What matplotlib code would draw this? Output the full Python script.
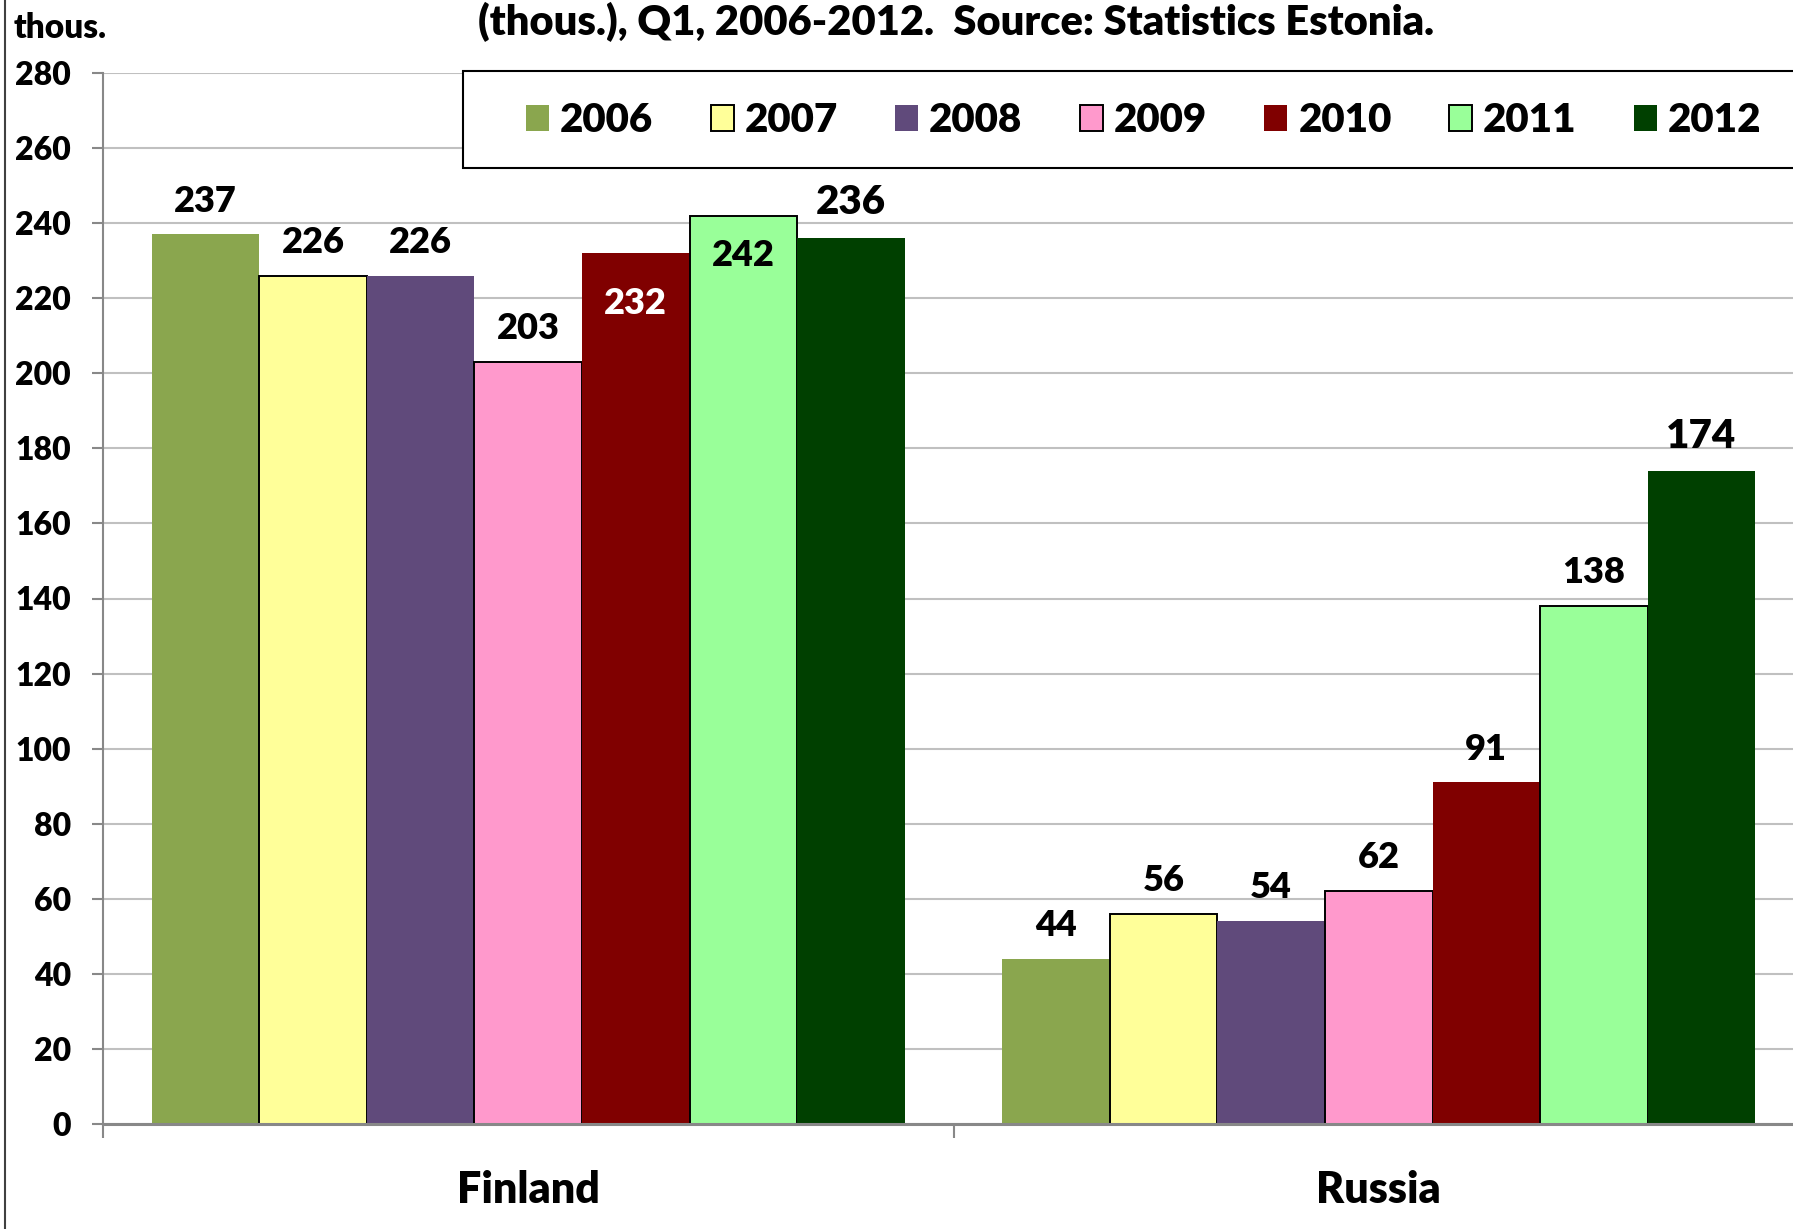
import matplotlib
matplotlib.use("Agg")
import matplotlib.pyplot as plt
import numpy as np
from matplotlib.patches import Rectangle, Patch
from matplotlib.lines import Line2D

# data
countries = ["Finland", "Russia"]
years = ["2006", "2007", "2008", "2009", "2010", "2011", "2012"]
finland = [237, 226, 226, 203, 232, 242, 236]
russia = [44, 56, 54, 62, 91, 138, 174]
y_ticks = list(range(0, 281, 20))

TITLE = "(thous.), Q1, 2006-2012.  Source: Statistics Estonia."
UNIT = "thous."

colors = ["#8AA64E", "#FFFF99", "#604A7B", "#FF99CC", "#800000", "#99FF99", "#004000"]
outlined = [False, True, False, True, False, True, False]

FONT = ["Lato", "DejaVu Sans"]
WEIGHT = "heavy"
plt.rcParams["font.family"] = FONT
plt.rcParams["font.weight"] = WEIGHT

W, H = 1793, 1229
fig = plt.figure(figsize=(W / 100, H / 100), dpi=100)

# axes: left spine at x=103px, zero line at y=1124px, 280 at y=73px, runs past the right edge
ax = fig.add_axes([103 / W, 1 - 1124 / H, 1701 / W, (1124 - 73) / H])

values = np.array([finland, russia])
x = np.arange(len(countries))
bw = 0.1264
for i, yr in enumerate(years):
    ax.bar(x + (i - 3) * bw, values[:, i], width=bw, color=colors[i],
           edgecolor="black" if outlined[i] else colors[i],
           linewidth=1.4 if outlined[i] else 0, zorder=3)

# value labels (offsets in points from the bar top)
offsets = [[24, 24, 24, 24, -36, -29, 25.5], [24, 24, 24, 24, 24, 24, 25]]
sizes = [[26, 26, 26, 26, 26, 26, 29], [26, 26, 26, 26, 26, 26, 29]]
label_colors = [["black"] * 4 + ["white"] + ["black"] * 2, ["black"] * 7]
for c in range(len(countries)):
    for i in range(len(years)):
        v = values[c, i]
        ax.annotate(str(v), (x[c] + (i - 3) * bw, v), xytext=(0, offsets[c][i]),
                    textcoords="offset points", ha="center", va="center",
                    fontsize=sizes[c][i], fontweight=WEIGHT,
                    color=label_colors[c][i], zorder=5)

ax.set_xlim(-0.5, 1.5)
ax.set_ylim(0, 280)
ax.set_yticks(y_ticks)
ax.set_yticklabels([str(t) for t in y_ticks], fontsize=23, fontweight=WEIGHT)
ax.yaxis.grid(True, color="#C0C0C0", linewidth=1.5, zorder=0)
ax.set_axisbelow(True)

ax.set_xticks(x)
ax.set_xticklabels(countries, fontsize=31, fontweight=WEIGHT)
ax.set_xticks([-0.5, 0.5, 1.5], minor=True)
ax.tick_params(axis="x", which="major", length=0, pad=33)
ax.tick_params(axis="x", which="minor", length=10, width=1.5, color="#888888")
ax.tick_params(axis="y", length=8, width=1.5, color="#888888", pad=15)

for s in ["top", "right"]:
    ax.spines[s].set_visible(False)
ax.spines["left"].set_color("#888888")
ax.spines["left"].set_linewidth(1.5)
ax.spines["bottom"].set_color("#888888")
ax.spines["bottom"].set_linewidth(2.2)
ax.spines["bottom"].set_zorder(4)

# legend box, running off the right edge like the reference
fig.patches.append(Rectangle((463 / W, 1 - 168 / H), 1.0, (168 - 71) / H,
                             transform=fig.transFigure, facecolor="white",
                             edgecolor="black", linewidth=1.5, zorder=4))
handles = [Patch(facecolor=colors[i], edgecolor="black" if outlined[i] else colors[i],
                 linewidth=1.4 if outlined[i] else 0, label=years[i])
           for i in range(len(years))]
fig.legend(handles=handles, ncol=7, loc="center left",
           bbox_to_anchor=(526 / W, 1 - 121 / H), frameon=False,
           prop={"family": FONT, "weight": WEIGHT, "size": 29},
           handlelength=0.57, handleheight=0.62, handletextpad=0.27,
           columnspacing=1.43, borderpad=0, borderaxespad=0)

fig.text(956 / W, 1 - 35 / H, TITLE, ha="center", va="baseline",
         fontsize=30, fontweight=WEIGHT)
fig.text(14 / W, 1 - 38 / H, UNIT, ha="left", va="baseline",
         fontsize=24, fontweight=WEIGHT)

# outer chart border on the left
fig.lines.append(Line2D([5 / W, 5 / W], [0, 1], transform=fig.transFigure,
                        color="#404040", linewidth=1.5))

fig.savefig("out.png", dpi=100)
